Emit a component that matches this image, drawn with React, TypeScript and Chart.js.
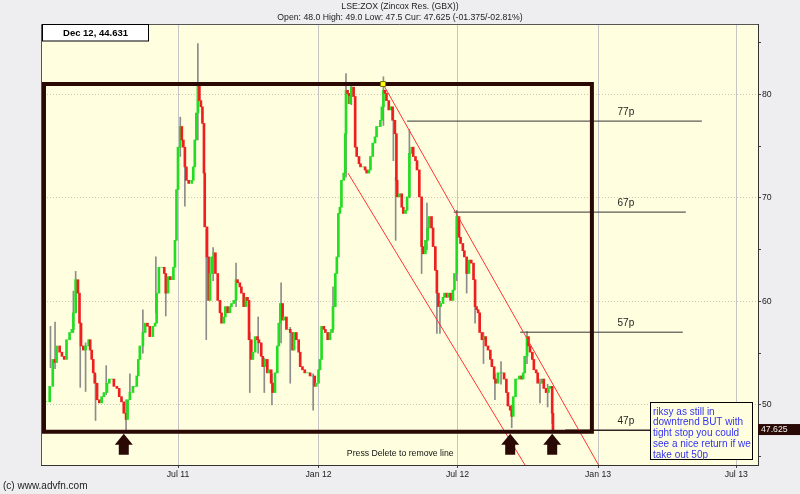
import React, { useEffect, useRef } from 'react';
import { Chart, registerables } from 'chart.js';

Chart.register(...registerables);

const FONT = "'Liberation Sans', Arial, sans-serif";

// x values: calendar days counted from 1 Jan 2011
const closeDays = [
  8, 13, 17, 20, 22, 26, 29, 32, 35, 39, 42, 44, 47, 50, 52, 54, 57, 60, 64, 66, 68, 70, 72, 75, 78, 81, 84, 88, 91, 94,
  97, 101, 104, 107, 110, 113, 115, 118, 122, 125, 127, 129, 131, 135, 138, 141, 144, 148, 151, 153, 156, 160, 163, 165,
  168, 171, 175, 177, 179, 181, 184, 186, 188, 190,
  192, 195, 199, 201, 203, 205, 207, 209, 211, 213, 215, 216, 219, 221, 223, 225, 228, 230, 233, 236, 238, 241, 243, 246,
  249, 251, 254, 257, 259, 262, 264, 267, 270, 272, 274, 277, 279, 282, 285, 287, 290, 292, 295, 298, 300, 303, 305, 308,
  311, 313, 315, 318, 320, 323, 326, 328, 331, 333, 336, 339, 341, 344, 347, 349, 352, 354, 357, 360, 362, 365, 367, 369,
  372, 374, 377, 380, 382, 384,
  387, 389, 391, 393, 395, 398, 400, 401, 403, 405, 406, 408, 411, 413, 415, 418, 420, 423, 426, 428, 431, 433, 436, 439,
  441, 444, 446, 448, 450, 452, 454, 457, 460, 462, 465, 467, 468, 471, 474, 476, 479, 481, 484, 487, 489, 492, 494, 497,
  500, 502, 505, 508, 510, 513, 515, 518, 520, 522, 525, 528, 530, 533, 535, 538, 541, 543, 546, 549, 551, 554, 556, 559, 562,
  565, 568, 570, 572, 574, 576, 579, 582, 584, 587, 590, 592, 595, 597, 600, 603, 605, 608, 611, 613, 616, 618, 620, 623,
  625, 628, 631, 633, 635, 638, 640, 642, 645, 647, 650, 652, 655, 658, 660, 663, 666, 668, 671, 672
];
const closes = [
  50.3, 51.8, 54.4, 54.1, 55.7, 55.1, 54.7, 54.4, 56.3, 57.0, 57.3, 58.9, 62.1, 60.8, 57.9, 55.7, 55.3, 55.7, 56.3, 55.3,
  54.4, 53.1, 52.1, 50.5, 50.2, 50.8, 51.2, 52.1, 52.5, 52.5, 51.8, 51.6, 50.8, 50.3, 49.2, 48.6, 50.5, 51.2, 51.8, 51.8,
  52.8, 54.4, 55.7, 57.0, 57.9, 57.6, 56.6, 57.6, 57.9, 60.8, 63.3, 63.3, 62.7, 60.8, 62.4, 62.1, 63.3, 65.9, 70.8, 74.9,
  76.9, 75.6, 74.9, 73.0,
  71.7, 71.4, 71.7, 73.0, 75.6, 78.2, 81.1, 79.4, 78.8, 77.2, 72.4, 67.2, 64.3, 60.1, 62.7, 64.3, 64.7, 62.7, 60.1, 58.9,
  57.9, 58.5, 59.5, 58.9, 59.5, 59.8, 60.1, 62.1, 61.8, 61.4, 60.8, 59.5, 60.4, 60.1, 56.3, 54.4, 55.1, 56.6, 56.3, 56.0,
  54.7, 53.7, 54.4, 53.1, 53.4, 52.1, 51.2, 53.1, 55.7, 57.9, 59.8, 58.2, 58.5, 57.3, 57.3, 57.0, 55.3, 57.0, 56.3, 55.1,
  53.7, 53.4, 53.1, 53.1, 53.1, 52.8, 52.8, 51.8, 52.1, 53.4, 54.4, 57.6, 57.3, 57.0, 56.3, 57.0, 57.3, 59.5,
  62.7, 64.3, 68.5, 69.1, 71.7, 72.4, 76.2, 80.4, 80.1, 79.1, 79.8, 80.7, 79.8, 74.9, 74.0, 73.3, 73.0, 73.0, 72.7, 72.4,
  72.7, 74.0, 75.3, 75.9, 76.9, 76.9, 77.5, 78.8, 80.4, 80.1, 79.4, 78.5, 78.8, 77.5, 76.2, 71.7, 70.1, 70.4, 69.1, 68.5,
  68.8, 70.1, 74.3, 74.9, 74.0, 73.6, 72.7, 70.1, 65.3, 64.6, 65.9, 67.1, 68.2, 67.1, 65.3, 63.0, 60.8, 59.5, 59.8, 60.4,
  60.8, 60.4, 60.8, 60.1, 61.1, 62.7, 68.2, 66.2, 65.6, 64.9, 64.3, 62.7, 64.0,
  63.7, 62.1, 59.5, 59.2, 58.9, 57.0, 56.3, 56.6, 55.7, 55.3, 54.4, 53.7, 52.5, 52.1, 53.1, 53.1, 53.1, 52.5, 51.2, 49.9,
  49.5, 48.9, 50.8, 52.5, 52.5, 52.8, 52.5, 53.1, 54.7, 56.6, 55.7, 55.1, 54.4, 53.4, 53.1, 52.1, 52.1, 52.5, 51.6, 51.2,
  51.6, 51.8, 49.2, 47.6
];

const wickDays = [
  14, 20, 44, 47, 53, 60, 73, 87, 113, 118, 135, 152, 165, 184, 190, 207, 218, 227, 257, 275, 286, 294, 304, 316, 328,
  358, 384, 401, 408, 450, 463, 466, 484, 500, 507, 520, 524, 546, 559, 570, 581, 596, 604, 618, 638, 655, 665, 671
];
const wickLows = [
  53.6, 53.5, 57.0, 60.0, 51.7, 51.3, 48.5, 51.0, 47.6, 50.5, 55.0, 58.9, 58.6, 74.0, 69.2, 75.6, 56.3, 62.0, 59.5, 51.2,
  55.0, 51.2, 50.0, 56.0, 52.1, 49.5, 57.0, 72.0, 79.0, 77.0, 73.6, 65.9, 70.0, 62.7, 65.0, 56.9, 56.9, 62.0, 60.8, 57.9,
  54.0, 50.5, 52.0, 47.8, 54.0, 50.2, 49.8, 48.2
];
const wickHighs = [
  57.6, 58.0, 61.0, 62.9, 58.0, 56.0, 53.0, 53.8, 50.5, 53.0, 59.2, 64.3, 62.0, 77.8, 74.0, 84.9, 67.0, 65.2, 63.7, 57.0,
  58.5, 54.5, 53.0, 61.8, 57.5, 53.0, 61.4, 82.0, 81.1, 81.7, 78.5, 72.0, 76.6, 66.0, 69.5, 61.0, 60.0, 68.8, 63.5, 60.5,
  57.0, 53.0, 54.2, 50.0, 57.1, 52.5, 52.0, 50.5
];

const xTickDays = [181, 365, 547, 731, 912];
const xTickLabels = ['Jul 11', 'Jan 12', 'Jul 12', 'Jan 13', 'Jul 13'];
const yTickValues = [45, 50, 55, 60, 65, 70, 75, 80, 85];
const yLabelValues = [50, 60, 70, 80];

// drawn annotations, in data units (day, price)
const boxDays = [5.5, 723];
const boxPrices = [81.0, 47.4];
const upperChannelDays = [449.5, 731.7];
const upperChannelPrices = [81.0, 44.2];
const lowerChannelDays = [403.6, 635.4];
const lowerChannelPrices = [72.4, 44.2];
const levelNames = ['77p', '67p', '57p', '47p'];
const levelPrices = [77.42, 68.63, 57.03, 47.55];
const levelStartDays = [481, 542, 629, 688];
const levelEndDays = [867, 846, 842, 800];
const levelLabelDay = 767.5;
const pivotDay = 449.5;
const pivotPrice = 81.0;
const arrowDays = [110, 616, 671];
const noteDay = 799;
const notePrice = 50.32;
const noteLines = ['riksy as still in', 'downtrend BUT with', 'tight stop you could', 'see a nice return if we', 'take out 50p'];
const pressDay = 472;
const lastPrice = 47.625;
const titleText = 'LSE:ZOX (Zincox Res. (GBX))';
const quoteText = 'Open: 48.0 High: 49.0 Low: 47.5 Cur: 47.625 (-01.375/-02.81%)';
const infoText = 'Dec 12, 44.631';

const DARK = '#2a0905';

const decorPlugin = {
  id: 'decor',
  beforeDraw(chart: any) {
    const { ctx, chartArea: a } = chart;
    ctx.save();
    ctx.fillStyle = '#eeedf0';
    ctx.fillRect(0, 0, chart.width, chart.height);
    ctx.fillStyle = '#ffffe0';
    ctx.fillRect(a.left, a.top, a.right - a.left, a.bottom - a.top);
    ctx.restore();
  },
  afterDatasetsDraw(chart: any) {
    const { ctx } = chart;
    const xs = chart.scales.x;
    const ys = chart.scales.y;
    const tip = ys.getPixelForValue(boxPrices[1]) + 2;
    ctx.save();
    ctx.fillStyle = DARK;
    arrowDays.forEach((d) => {
      const cx = xs.getPixelForValue(d);
      ctx.beginPath();
      ctx.moveTo(cx, tip);
      ctx.lineTo(cx + 9, tip + 11);
      ctx.lineTo(cx + 5, tip + 11);
      ctx.lineTo(cx + 5, tip + 21);
      ctx.lineTo(cx - 5, tip + 21);
      ctx.lineTo(cx - 5, tip + 11);
      ctx.lineTo(cx - 9, tip + 11);
      ctx.closePath();
      ctx.fill();
    });
    ctx.restore();
  },
  afterDraw(chart: any) {
    const { ctx, chartArea: a } = chart;
    const xs = chart.scales.x;
    const ys = chart.scales.y;
    ctx.save();
    // plot frame top/left
    ctx.strokeStyle = '#555';
    ctx.lineWidth = 1;
    ctx.beginPath();
    ctx.moveTo(a.left + 0.5, a.bottom);
    ctx.lineTo(a.left + 0.5, a.top + 0.5);
    ctx.lineTo(a.right, a.top + 0.5);
    ctx.stroke();

    // titles
    ctx.fillStyle = '#222';
    ctx.textAlign = 'center';
    ctx.textBaseline = 'middle';
    ctx.font = `8.7px ${FONT}`;
    ctx.fillText(titleText, 400, 7);
    ctx.fillText(quoteText, 400, 18);

    // info box
    ctx.fillStyle = '#ffffff';
    ctx.fillRect(42.5, 24.5, 106, 16.5);
    ctx.strokeStyle = '#000';
    ctx.strokeRect(42.5, 24.5, 106, 16.5);
    ctx.fillStyle = '#000';
    ctx.font = `bold 9.5px ${FONT}`;
    ctx.fillText(infoText, 95.5, 33);

    // level labels
    ctx.fillStyle = '#222';
    ctx.font = `10px ${FONT}`;
    levelNames.forEach((n, i) => {
      ctx.fillText(n, xs.getPixelForValue(levelLabelDay), ys.getPixelForValue(levelPrices[i]) - 9);
    });

    // press delete text
    ctx.font = `8.7px ${FONT}`;
    ctx.fillStyle = '#111';
    ctx.fillText('Press Delete to remove line', xs.getPixelForValue(pressDay), a.bottom - 11);

    // note box
    const nx = Math.round(xs.getPixelForValue(noteDay)) + 0.5;
    const ny = Math.round(ys.getPixelForValue(notePrice)) + 0.5;
    ctx.fillStyle = '#ffffe0';
    ctx.fillRect(nx, ny, 102, 57);
    ctx.strokeStyle = '#000';
    ctx.strokeRect(nx, ny, 102, 57);
    ctx.fillStyle = '#3333ee';
    ctx.font = `10px ${FONT}`;
    ctx.textAlign = 'left';
    noteLines.forEach((t, i) => ctx.fillText(t, nx + 2.5, ny + 9.5 + i * 10.7));

    // last price label
    const ly = ys.getPixelForValue(lastPrice);
    ctx.fillStyle = DARK;
    ctx.fillRect(a.right, ly - 5.5, chart.width - a.right, 11);
    ctx.fillStyle = '#f0f0f0';
    ctx.font = `8.7px ${FONT}`;
    ctx.fillText(lastPrice.toFixed(3), a.right + 3, ly);

    // copyright
    ctx.fillStyle = '#222';
    ctx.font = `10px ${FONT}`;
    ctx.fillText('(c) www.advfn.com', 3, 486);
    ctx.restore();
  },
};

export default function App() {
  const ref = useRef<HTMLCanvasElement | null>(null);

  useEffect(() => {
    const canvas = ref.current;
    if (!canvas) return;
    const bodyData = closeDays.map((d, i) => ({ x: d, y: [i > 0 ? closes[i - 1] : closes[i], closes[i]] }));
    const bodyColors = closes.map((c, i) => (i > 0 && c < closes[i - 1] ? '#ee1f1f' : '#22dd22'));
    const wickData = wickDays.map((d, i) => ({ x: d, y: [wickLows[i], wickHighs[i]] }));
    const line = (xsArr: number[], ysArr: number[], color: string, width: number, extra: any = {}) => ({
      type: 'line',
      data: xsArr.map((x, i) => ({ x, y: ysArr[i] })),
      borderColor: color,
      borderWidth: width,
      pointRadius: 0,
      fill: false,
      tension: 0,
      order: 0,
      ...extra,
    });
    const levelSets = levelPrices.map((p, i) =>
      line([levelStartDays[i], levelEndDays[i]], [p, p], i === 3 ? '#332222' : '#333333', i === 3 ? 1.5 : 1)
    );
    const chart = new Chart(canvas, {
      type: 'bar',
      data: {
        datasets: [
          {
            type: 'line',
            data: [{ x: pivotDay, y: pivotPrice }],
            showLine: false,
            pointStyle: 'rect',
            pointRadius: 3.5,
            pointBackgroundColor: '#ffff00',
            pointBorderColor: '#777700',
            pointBorderWidth: 1,
            order: -1,
          } as any,
          line(
            [boxDays[0], boxDays[1], boxDays[1], boxDays[0], boxDays[0], boxDays[1]],
            [boxPrices[0], boxPrices[0], boxPrices[1], boxPrices[1], boxPrices[0], boxPrices[0]],
            DARK,
            4,
            { borderJoinStyle: 'miter' }
          ),
          line(upperChannelDays, upperChannelPrices, '#ff3333', 1),
          line(lowerChannelDays, lowerChannelPrices, '#ff3333', 1),
          ...levelSets,
          {
            type: 'bar',
            data: bodyData,
            backgroundColor: bodyColors,
            barThickness: 2,
            grouped: false,
            order: 2,
          } as any,
          {
            type: 'bar',
            data: wickData,
            backgroundColor: '#8c8c8c',
            barThickness: 1,
            grouped: false,
            order: 3,
          } as any,
        ],
      },
      options: {
        animation: false,
        responsive: false,
        devicePixelRatio: 1,
        layout: { padding: { left: 41, top: 24, right: 0, bottom: 0 } },
        plugins: { legend: { display: false }, tooltip: { enabled: false }, title: { display: false } },
        scales: {
          x: {
            type: 'linear',
            offset: false,
            min: 1.6,
            max: 940.5,
            afterBuildTicks: (s: any) => {
              s.ticks = xTickDays.map((v) => ({ value: v }));
            },
            afterFit: (s: any) => {
              s.height = 29;
            },
            ticks: {
              autoSkip: false,
              maxRotation: 0,
              padding: 1,
              color: '#222',
              font: { family: FONT, size: 8.7 },
              callback: (v: any) => {
                const i = xTickDays.indexOf(Number(v));
                return i >= 0 ? xTickLabels[i] : '';
              },
            },
            grid: { offset: false, color: '#c6c6c6', tickColor: '#444', tickLength: 3, lineWidth: 1 },
            border: { color: '#333', width: 1 },
          },
          y: {
            type: 'linear',
            position: 'right',
            min: 44.2,
            max: 86.8,
            afterBuildTicks: (s: any) => {
              s.ticks = yTickValues.map((v) => ({ value: v }));
            },
            afterFit: (s: any) => {
              s.width = 42;
            },
            ticks: {
              padding: 1,
              color: '#222',
              font: { family: FONT, size: 8.7 },
              callback: (v: any) => (yLabelValues.includes(Number(v)) ? String(v) : ''),
            },
            grid: {
              color: (c: any) => (c.tick && yLabelValues.includes(c.tick.value) ? '#cdc8b4' : 'rgba(0,0,0,0)'),
              tickColor: '#444',
              tickLength: 3,
            },
            border: { color: '#333', width: 1, dash: [1, 2] },
          },
        },
      } as any,
      plugins: [decorPlugin],
    });
    return () => chart.destroy();
  }, []);

  return (
    <div style={{ position: 'absolute', left: 0, top: 0, width: 800, height: 494 }}>
      <canvas ref={ref} width={800} height={494} style={{ display: 'block' }} />
    </div>
  );
}
